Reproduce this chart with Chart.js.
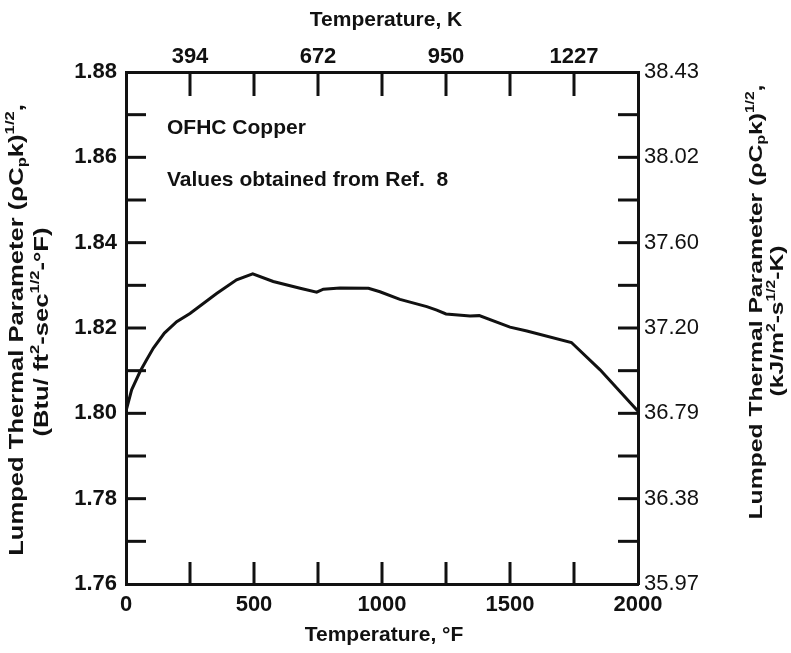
<!DOCTYPE html>
<html>
<head>
<meta charset="utf-8">
<script src="https://cdn.jsdelivr.net/npm/chart.js@4.4.0/dist/chart.umd.min.js"></script>
<style>
  body { margin: 0; background: #fff; }
</style>
</head>
<body>
<canvas id="myChart" width="791" height="653"></canvas>
<script>
// temperature (deg F) and lumped thermal parameter
const temperatureF = [0, 22, 55, 80, 107, 150, 198, 250, 354, 432, 495, 575, 680, 745, 771, 836, 947, 992, 1070, 1175, 1214, 1250, 1344, 1380, 1500, 1566, 1740, 1852, 2000];
const thermalParam = [1.8005, 1.8055, 1.8098, 1.8125, 1.8153, 1.8188, 1.8215, 1.8234, 1.8281, 1.8313, 1.8327, 1.8309, 1.8293, 1.8284, 1.8291, 1.8294, 1.8293, 1.8285, 1.8267, 1.8250, 1.8242, 1.8233, 1.8228, 1.8229, 1.8202, 1.8193, 1.8166, 1.8102, 1.8005];

// tick labels
const fahrenheitTicks = [0, 500, 1000, 1500, 2000];
const kelvinTickPos = [250, 750, 1250, 1750];
const kelvinTicks = ['394', '672', '950', '1227'];
const siTicks = ['35.97', '36.38', '36.79', '37.20', '37.60', '38.02', '38.43'];

const fam = 'Liberation Sans, Arial, sans-serif';
const scanFont = { family: fam, size: 22, weight: 'bold' };
const siFont = { family: fam, size: 22 };
const ink = '#111';

// chart area is fixed so the axes land where the original has them
function fixSize(prop, val) {
  return (scale) => { scale[prop] = val; };
}

// draws a line of text with sub/superscript parts, centred on x,y
// sx stretches the text along its own direction (the scan is a bit stretched)
function drawRich(ctx, parts, x, y, rot, size, weight, sx) {
  ctx.save();
  ctx.translate(x, y);
  ctx.rotate(rot);
  ctx.scale(sx || 1, 1);
  ctx.fillStyle = ink;
  ctx.textBaseline = 'middle';
  ctx.textAlign = 'left';
  const fontOf = (p) => weight + ' ' + (p.sub || p.sup ? Math.round(size * 0.65) : size) + 'px ' + fam;
  let total = 0;
  parts.forEach(p => { ctx.font = fontOf(p); total += ctx.measureText(p.t).width; });
  let cx = -total / 2;
  parts.forEach(p => {
    ctx.font = fontOf(p);
    let dy = 0;
    if (p.sup) dy = -size * 0.35;
    if (p.sub) dy = size * 0.25;
    ctx.fillText(p.t, cx, dy);
    cx += ctx.measureText(p.t).width;
  });
  ctx.restore();
}

const inwardTicks = {
  id: 'inwardTicks',
  afterDraw(chart) {
    const ctx = chart.ctx;
    const a = chart.chartArea;
    ctx.save();
    ctx.strokeStyle = ink;
    ctx.lineWidth = 3;
    const lens = { x: 22, x2: 24, y: 20, y2: 20 };
    Object.keys(lens).forEach(id => {
      const s = chart.scales[id];
      s.ticks.forEach(t => {
        const p = s.getPixelForValue(t.value);
        const L = lens[id];
        ctx.beginPath();
        if (id === 'x') { if (p <= a.left + 1 || p >= a.right - 1) return; ctx.moveTo(p, a.bottom); ctx.lineTo(p, a.bottom - L); }
        if (id === 'x2') { if (p <= a.left + 1 || p >= a.right - 1) return; ctx.moveTo(p, a.top); ctx.lineTo(p, a.top + L); }
        if (id === 'y') { if (p <= a.top + 1 || p >= a.bottom - 1) return; ctx.moveTo(a.left, p); ctx.lineTo(a.left + L, p); }
        if (id === 'y2') { if (p <= a.top + 1 || p >= a.bottom - 1) return; ctx.moveTo(a.right, p); ctx.lineTo(a.right - L, p); }
        ctx.stroke();
      });
    });
    ctx.restore();

    // axis titles and notes
    drawRich(ctx, [{ t: 'Temperature, K' }], 386, 20, 0, 21, 'bold');
    drawRich(ctx, [{ t: 'Temperature, °F' }], 384, 635, 0, 21, 'bold');
    drawRich(ctx, [{ t: 'Lumped Thermal Parameter (ρC' }, { t: 'p', sub: true }, { t: 'k)' }, { t: '1/2', sup: true }, { t: ',' }], 17, 330, -Math.PI / 2, 20, 'bold', 1.28);
    drawRich(ctx, [{ t: '(Btu/ ft' }, { t: '2', sup: true }, { t: '-sec' }, { t: '1/2', sup: true }, { t: '-°F)' }], 42, 332, -Math.PI / 2, 20, 'bold', 1.28);
    drawRich(ctx, [{ t: 'Lumped Thermal Parameter (ρC' }, { t: 'p', sub: true }, { t: 'k)' }, { t: '1/2', sup: true }, { t: ',' }], 757, 302, -Math.PI / 2, 19, 'bold', 1.3);
    drawRich(ctx, [{ t: '(kJ/m' }, { t: '2', sup: true }, { t: '-s' }, { t: '1/2', sup: true }, { t: '-K)' }], 778, 321, -Math.PI / 2, 19, 'bold', 1.3);

    ctx.save();
    ctx.fillStyle = ink;
    ctx.font = 'bold 21px ' + fam;
    ctx.textBaseline = 'middle';
    ctx.fillText('OFHC Copper', 167, 128);
    ctx.fillText('Values obtained from Ref.  8', 167, 180);
    ctx.restore();
  }
};

function initChart(target) {
  const border = { display: true, color: ink, width: 3 };
  const noGrid = { display: false, drawTicks: false };
  return new Chart(target, {
    type: 'line',
    data: {
      datasets: [{
        data: temperatureF.map((t, i) => ({ x: t, y: thermalParam[i] })),
        borderColor: ink,
        borderWidth: 3,
        pointRadius: 0,
        tension: 0,
        xAxisID: 'x',
        yAxisID: 'y'
      }]
    },
    options: {
      responsive: false,
      animation: false,
      layout: { padding: 0 },
      plugins: { legend: { display: false }, tooltip: { enabled: false } },
      scales: {
        x: {
          type: 'linear', position: 'bottom', min: 0, max: 2000,
          grid: noGrid, border: border,
          ticks: { stepSize: 250, autoSkip: false, maxRotation: 0, padding: 8, color: ink, font: scanFont,
            callback: (v) => fahrenheitTicks.includes(v) ? String(v) : '' },
          afterFit: fixSize('height', 69)
        },
        x2: {
          type: 'linear', position: 'top', min: 0, max: 2000,
          grid: noGrid, border: border,
          ticks: { stepSize: 250, autoSkip: false, maxRotation: 0, padding: 2, color: ink, font: scanFont,
            callback: (v) => { const i = kelvinTickPos.indexOf(v); return i >= 0 ? kelvinTicks[i] : ''; } },
          afterFit: fixSize('height', 72)
        },
        y: {
          type: 'linear', position: 'left', min: 1.76, max: 1.88,
          grid: noGrid, border: border,
          ticks: { stepSize: 0.01, autoSkip: false, padding: 9, color: ink, font: scanFont,
            callback: (v) => { const c = Math.round(v * 100); return c % 2 === 0 ? (c / 100).toFixed(2) : ''; } },
          afterFit: fixSize('width', 126)
        },
        y2: {
          type: 'linear', position: 'right', min: 1.76, max: 1.88,
          grid: noGrid, border: border,
          ticks: { stepSize: 0.01, autoSkip: false, padding: 6, color: ink, font: siFont,
            callback: (v) => { const c = Math.round(v * 100); return c % 2 === 0 ? siTicks[(c - 176) / 2] : ''; } },
          afterFit: fixSize('width', 153)
        }
      }
    },
    plugins: [inwardTicks]
  });
}

document.addEventListener('DOMContentLoaded', () => {
  initChart(document.querySelector('#myChart'));
});
</script>
</body>
</html>
